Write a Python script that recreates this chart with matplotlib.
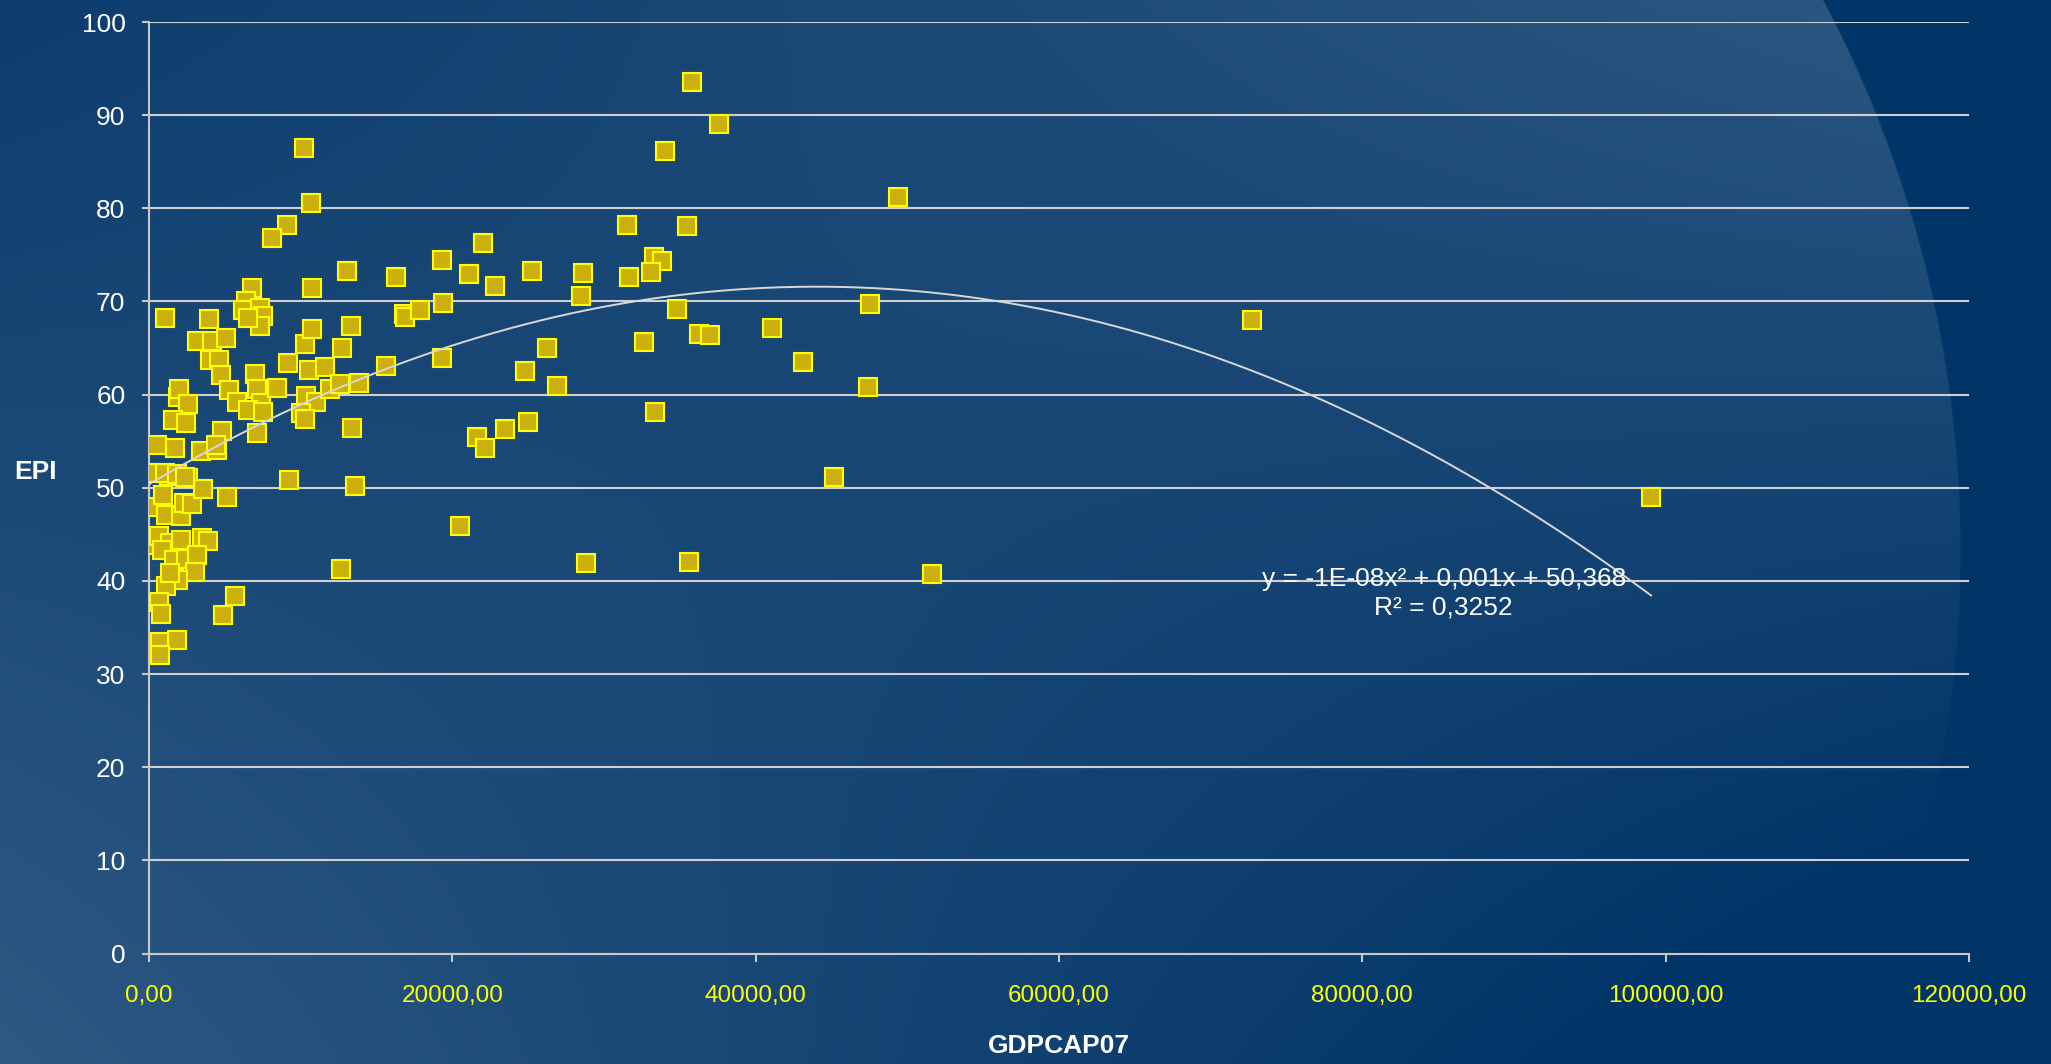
import numpy as np
import matplotlib

matplotlib.use('Agg')
import matplotlib.pyplot as plt

# GDP per capita 2007 vs. EPI score, one point per country
gdpcap07 = [
    10250, 10690, 9105, 8135, 13070, 10750, 6814, 6373, 6168, 7313,
    7548, 7343, 6550, 1028, 3936, 3143, 4170, 5052, 4024, 4611,
    4758, 5257, 5786, 6990, 7137, 7401, 6550, 7490, 7108, 8430,
    9164, 10280, 10750, 10544, 11572, 10338, 10985, 10045, 10280, 11954,
    12600, 12747, 13305, 13863, 13393, 13569, 9252, 12630, 15625, 16271,
    16830, 16890, 17857, 19325, 19383, 19296, 20530, 21117, 22027, 22790,
    21616, 22174, 23466, 24788, 24994, 25229, 26257, 26873, 28459, 28635,
    28841, 31543, 31631, 32659, 33275, 33833, 33099, 33334, 34010, 34803,
    35479, 35597, 35832, 37600, 36260, 37010, 49390, 47520, 41050, 43120,
    47430, 45170, 51610, 72720, 99040,
    264, 558, 1733, 235, 940, 1322, 1145, 2115, 2555, 2320,
    2849, 3583, 5110, 3436, 4464, 4817, 1909, 1968, 2555, 1586,
    2467, 440, 646, 1380, 2115, 3524, 3877, 852, 1674, 2408,
    3143, 3054, 1909, 1145, 1380, 646, 793, 4905, 5698, 705,
    1850, 705, 1055, 1825, 2375, 4420,
]
epi = [
    86.5, 80.6, 78.2, 76.8, 73.3, 71.4, 71.4, 70.1, 69.1, 69.3,
    68.4, 67.4, 68.2, 68.2, 68.1, 65.8, 65.8, 66.1, 63.7, 63.7,
    62.1, 60.5, 59.2, 62.2, 60.6, 59.1, 58.3, 58.1, 55.9, 60.7,
    63.4, 65.4, 67.0, 62.6, 63.0, 59.9, 59.2, 58.0, 57.4, 60.6,
    61.1, 65.0, 67.4, 61.2, 56.4, 50.2, 50.8, 41.3, 63.1, 72.6,
    68.7, 68.3, 69.1, 74.5, 69.8, 63.9, 45.9, 73.0, 76.3, 71.7,
    55.4, 54.3, 56.3, 62.5, 57.1, 73.3, 65.0, 60.9, 70.6, 73.1,
    41.9, 78.2, 72.6, 65.7, 74.8, 74.3, 73.2, 58.1, 86.1, 69.2,
    78.1, 42.0, 93.6, 89.1, 66.5, 66.4, 81.2, 69.7, 67.1, 63.5,
    60.8, 51.2, 40.7, 68.0, 49.0,
    51.6, 54.6, 54.3, 47.9, 49.2, 51.3, 47.1, 47.0, 51.1, 48.4,
    48.3, 49.9, 49.0, 53.9, 54.0, 56.1, 59.7, 60.6, 59.0, 57.3,
    57.0, 43.9, 44.8, 44.1, 44.4, 44.6, 44.3, 43.3, 42.2, 42.4,
    42.8, 41.0, 40.1, 39.5, 40.8, 37.7, 36.4, 36.3, 38.4, 33.4,
    33.7, 32.0, 51.6, 51.5, 51.2, 54.6,
]

# polynomial trendline (2nd order) as shown in the label
trend_coef = [-1.095e-8, 9.64e-4, 50.368]
trend_label = 'y = -1E-08x² + 0,001x + 50,368\nR² = 0,3252'

y_ticks = [0, 10, 20, 30, 40, 50, 60, 70, 80, 90, 100]
x_ticks = [0, 20000, 40000, 60000, 80000, 100000, 120000]
x_tick_labels = ['0,00', '20000,00', '40000,00', '60000,00',
                 '80000,00', '100000,00', '120000,00']

W, H = 2051, 1064


def background():
    # slide background: diagonal blue shading cut by a big round highlight
    def rgb(h):
        return np.array([int(h[i:i + 2], 16) for i in (1, 3, 5)]) / 255.0
    light, dark = rgb('#2e5983'), rgb('#013467')
    yy, xx = np.mgrid[0:H, 0:W]
    u = xx / (W - 1)
    v = yy / (H - 1)
    # lightness at the corners: TL, TR, BL, BR
    w = (0.25 * (1 - u) * (1 - v) + 1.0 * u * (1 - v)
         + 1.0 * (1 - u) * v - 0.3 * u * v)
    w = np.clip(w, 0, 1)
    r = np.hypot(xx - 788, yy - 550)
    inside = np.clip((1172 - r) / 2.0 + 0.5, 0, 1)
    w = (w * inside)[..., None]
    return light * w + dark * (1 - w)


def main():
    fig = plt.figure(figsize=(W / 100, H / 100), dpi=100)

    bg = fig.add_axes([0, 0, 1, 1], zorder=-1)
    bg.imshow(background(), aspect='auto', interpolation='bilinear')
    bg.axis('off')

    ax = fig.add_axes([149 / W, 1 - 953.5 / H, 1820 / W, 931.5 / H])
    ax.patch.set_alpha(0)
    ax.set_xlim(0, 120000)
    ax.set_ylim(0, 100)

    ax.plot(gdpcap07, epi, linestyle='none', marker='s', ms=13.2,
            mfc='#ccb00c', mec='#ffff00', mew=1.5, zorder=3)

    xs = np.linspace(0, max(gdpcap07), 300)
    ax.plot(xs, np.polyval(trend_coef, xs), color='#d8d8d8', lw=1.4, zorder=4)

    ax.text(85370, 38.7, trend_label, ha='center', va='center',
            color='white', fontsize=19, family='Liberation Sans',
            linespacing=1.22, zorder=5)

    ax.set_yticks(y_ticks)
    ax.set_yticklabels([str(t) for t in y_ticks])
    ax.set_xticks(x_ticks)
    ax.set_xticklabels(x_tick_labels)

    ax.yaxis.grid(True, color='#d0d0d0', lw=1.5)
    ax.set_axisbelow(True)
    for side in ('top', 'right'):
        ax.spines[side].set_visible(False)
    for side in ('left', 'bottom'):
        ax.spines[side].set_color('#c8c8c8')
        ax.spines[side].set_linewidth(1.5)

    ax.tick_params(axis='y', colors='#c8c8c8', labelcolor='white',
                   length=5, width=1.5, pad=12, labelsize=19)
    ax.tick_params(axis='x', colors='#c8c8c8', labelcolor='#ffff00',
                   length=6, width=1.5, pad=17, labelsize=17.5)
    for lab in ax.get_yticklabels() + ax.get_xticklabels():
        lab.set_family('Liberation Sans')

    fig.text(35 / W, 1 - 472 / H, 'EPI', ha='center', va='center',
             color='white', fontsize=19, fontweight='bold',
             family='Liberation Sans')
    fig.text(1059 / W, 1 - 1046 / H, 'GDPCAP07', ha='center', va='center',
             color='white', fontsize=19, fontweight='bold',
             family='Liberation Sans')

    fig.savefig('out.png', dpi=100)


if __name__ == '__main__':
    main()
